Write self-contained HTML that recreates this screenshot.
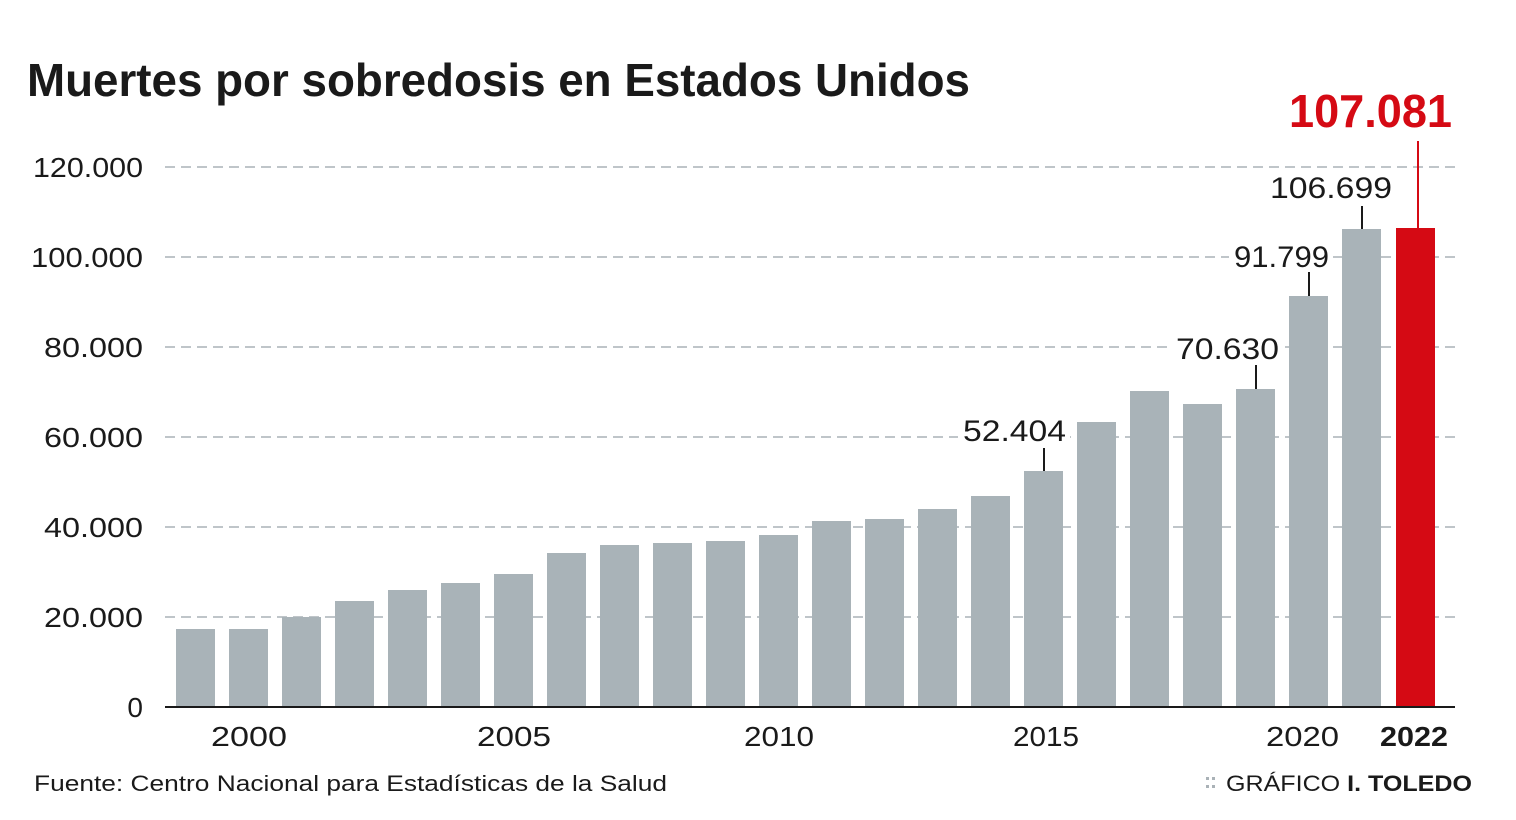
<!DOCTYPE html>
<html><head><meta charset="utf-8"><style>
html,body{margin:0;padding:0;background:#fff;}
svg{display:block;font-family:"Liberation Sans",sans-serif;}
</style></head><body>
<svg width="1516" height="820" viewBox="0 0 1516 820">
<text x="27" y="96" font-size="46" font-weight="bold" fill="#1a1a1a" textLength="943" lengthAdjust="spacingAndGlyphs">Muertes por sobredosis en Estados Unidos</text>
<g stroke="#aab2b7" stroke-width="1.5" stroke-dasharray="10 6">
<line x1="165" y1="167" x2="1455" y2="167"/>
<line x1="165" y1="257" x2="1455" y2="257"/>
<line x1="165" y1="347" x2="1455" y2="347"/>
<line x1="165" y1="437" x2="1455" y2="437"/>
<line x1="165" y1="527" x2="1455" y2="527"/>
<line x1="165" y1="617" x2="1455" y2="617"/>
</g>
<g font-size="28" fill="#1a1a1a" text-anchor="end" lengthAdjust="spacingAndGlyphs">
<text x="143" y="177" textLength="110" lengthAdjust="spacingAndGlyphs">120.000</text>
<text x="143" y="267" textLength="112" lengthAdjust="spacingAndGlyphs">100.000</text>
<text x="143" y="357" textLength="99" lengthAdjust="spacingAndGlyphs">80.000</text>
<text x="143" y="447" textLength="99" lengthAdjust="spacingAndGlyphs">60.000</text>
<text x="143" y="537" textLength="99" lengthAdjust="spacingAndGlyphs">40.000</text>
<text x="143" y="627" textLength="99" lengthAdjust="spacingAndGlyphs">20.000</text>
<text x="143" y="717">0</text>
</g>
<g fill="#a9b3b8">
<rect x="176" y="629" width="39" height="78"/>
<rect x="229" y="629" width="39" height="78"/>
<rect x="282" y="617" width="39" height="90"/>
<rect x="335" y="601" width="39" height="106"/>
<rect x="388" y="590" width="39" height="117"/>
<rect x="441" y="583" width="39" height="124"/>
<rect x="494" y="574" width="39" height="133"/>
<rect x="547" y="553" width="39" height="154"/>
<rect x="600" y="545" width="39" height="162"/>
<rect x="653" y="543" width="39" height="164"/>
<rect x="706" y="541" width="39" height="166"/>
<rect x="759" y="535" width="39" height="172"/>
<rect x="812" y="521" width="39" height="186"/>
<rect x="865" y="519" width="39" height="188"/>
<rect x="918" y="509" width="39" height="198"/>
<rect x="971" y="496" width="39" height="211"/>
<rect x="1024" y="471" width="39" height="236"/>
<rect x="1077" y="422" width="39" height="285"/>
<rect x="1130" y="391" width="39" height="316"/>
<rect x="1183" y="404" width="39" height="303"/>
<rect x="1236" y="389" width="39" height="318"/>
<rect x="1289" y="296" width="39" height="411"/>
<rect x="1342" y="229" width="39" height="478"/>
</g>
<rect x="1396" y="228" width="39" height="479" fill="#d50a14"/>
<line x1="165" y1="707" x2="1455" y2="707" stroke="#1a1a1a" stroke-width="2"/>
<g stroke="#1a1a1a" stroke-width="2">
<line x1="1044" y1="448" x2="1044" y2="471"/>
<line x1="1256" y1="365" x2="1256" y2="389"/>
<line x1="1309" y1="272" x2="1309" y2="296"/>
<line x1="1362" y1="206" x2="1362" y2="229"/>
</g>
<line x1="1418" y1="141" x2="1418" y2="228" stroke="#d50a14" stroke-width="2"/>
<g font-size="30" fill="#1a1a1a">
<rect x="958" y="412" width="112" height="34" fill="#fff"/>
<text x="963" y="441" textLength="103" lengthAdjust="spacingAndGlyphs">52.404</text>
<rect x="1171" y="330" width="112" height="34" fill="#fff"/>
<text x="1176" y="359" textLength="103" lengthAdjust="spacingAndGlyphs">70.630</text>
<rect x="1229" y="238" width="104" height="34" fill="#fff"/>
<text x="1234" y="267" textLength="95" lengthAdjust="spacingAndGlyphs">91.799</text>
<rect x="1266" y="171" width="130" height="34" fill="#fff"/>
<text x="1270" y="198" textLength="122" lengthAdjust="spacingAndGlyphs">106.699</text>
</g>
<text x="1289" y="127" font-size="46" font-weight="bold" fill="#d50a14" textLength="163" lengthAdjust="spacingAndGlyphs">107.081</text>
<g font-size="28" fill="#1a1a1a">
<text x="211" y="746" textLength="76" lengthAdjust="spacingAndGlyphs">2000</text>
<text x="477" y="746" textLength="74" lengthAdjust="spacingAndGlyphs">2005</text>
<text x="744" y="746" textLength="70" lengthAdjust="spacingAndGlyphs">2010</text>
<text x="1013" y="746" textLength="66" lengthAdjust="spacingAndGlyphs">2015</text>
<text x="1266" y="746" textLength="73" lengthAdjust="spacingAndGlyphs">2020</text>
<text x="1380" y="746" font-weight="bold" textLength="68" lengthAdjust="spacingAndGlyphs">2022</text>
</g>
<text x="34" y="791" font-size="22" fill="#1a1a1a" textLength="633" lengthAdjust="spacingAndGlyphs">Fuente: Centro Nacional para Estadísticas de la Salud</text>
<g fill="#aab2b7"><rect x="1206" y="777" width="3" height="3"/><rect x="1212" y="777" width="3" height="3"/><rect x="1206" y="785" width="3" height="3"/><rect x="1212" y="785" width="3" height="3"/></g>
<text x="1226" y="791" font-size="22" fill="#1a1a1a" textLength="246" lengthAdjust="spacingAndGlyphs">GRÁFICO <tspan font-weight="bold">I. TOLEDO</tspan></text>
</svg>
</body></html>
